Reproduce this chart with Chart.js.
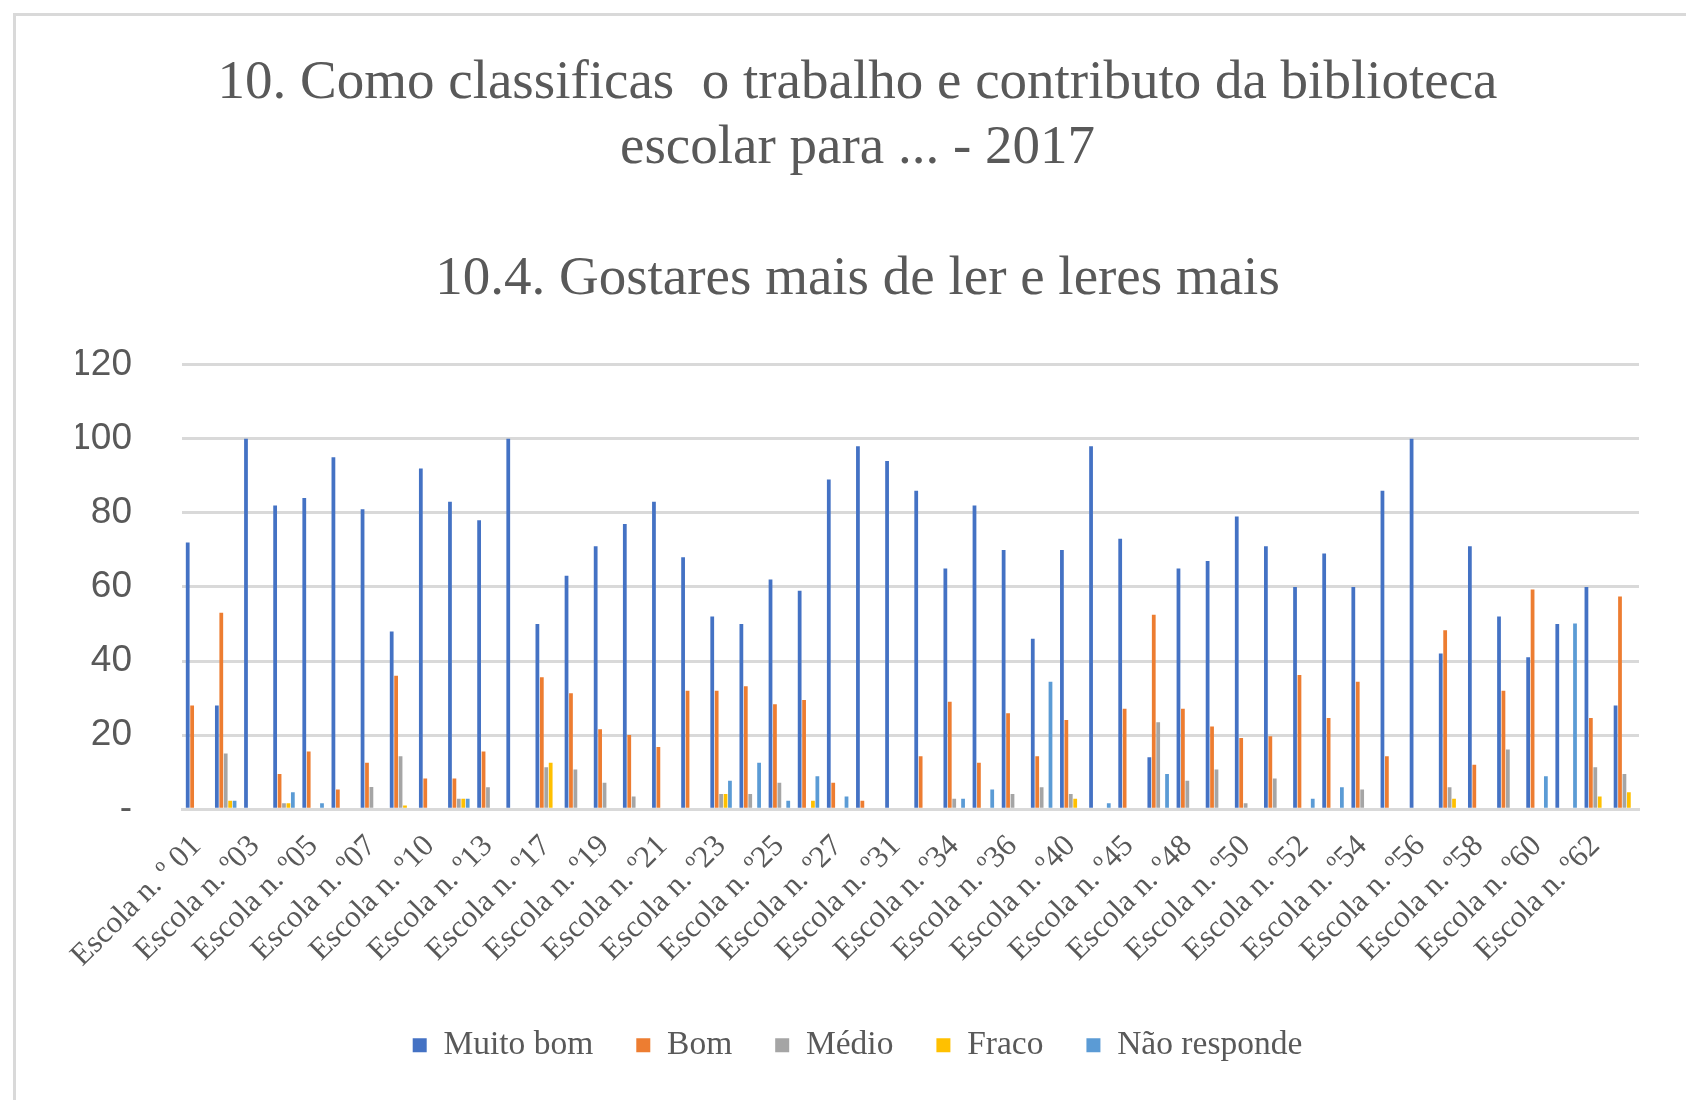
<!DOCTYPE html>
<html>
<head>
<meta charset="utf-8">
<script src="https://cdn.jsdelivr.net/npm/chart.js@4.4.1/dist/chart.umd.min.js"></script>
<style>
  html, body { margin: 0; padding: 0; background: #fff; overflow: hidden; }
  #frame {
    position: absolute; left: 13px; top: 13px;
    width: 1690px; height: 1100px;
    border-left: 3px solid #d9d9d9; border-top: 3px solid #d9d9d9;
  }
  #box { position: absolute; left: 0; top: 0; width: 1670px; height: 1084px; }
</style>
</head>
<body>
<div id="frame"><div id="box"><canvas id="chart"></canvas></div></div>
<script>
// school names (only every other one is shown on the axis)
const escolas = [
    'Escola n. º 01', 'Escola n. º02', 'Escola n. º03', 'Escola n. º04', 'Escola n. º05',
    'Escola n. º06', 'Escola n. º07', 'Escola n. º08', 'Escola n. º10', 'Escola n. º11',
    'Escola n. º13', 'Escola n. º15', 'Escola n. º17', 'Escola n. º18', 'Escola n. º19',
    'Escola n. º20', 'Escola n. º21', 'Escola n. º22', 'Escola n. º23', 'Escola n. º24',
    'Escola n. º25', 'Escola n. º26', 'Escola n. º27', 'Escola n. º29', 'Escola n. º31',
    'Escola n. º33', 'Escola n. º34', 'Escola n. º35', 'Escola n. º36', 'Escola n. º38',
    'Escola n. º40', 'Escola n. º42', 'Escola n. º45', 'Escola n. º47', 'Escola n. º48',
    'Escola n. º49', 'Escola n. º50', 'Escola n. º51', 'Escola n. º52', 'Escola n. º53',
    'Escola n. º54', 'Escola n. º55', 'Escola n. º56', 'Escola n. º57', 'Escola n. º58',
    'Escola n. º59', 'Escola n. º60', 'Escola n. º61', 'Escola n. º62', 'Escola n. º63'
];

const muitoBom = [72, 28, 100, 82, 84, 95, 81, 48, 92, 83, 78, 100, 50, 63, 71, 77, 83, 68, 52, 50,
    62, 59, 89, 98, 94, 86, 65, 82, 70, 46, 70, 98, 73, 14, 65, 67, 79, 71, 60, 69,
    60, 86, 100, 42, 71, 52, 41, 50, 60, 28];
const bom = [28, 53, 0, 9.5, 15.6, 5.3, 12.5, 36, 8.3, 8.3, 15.6, 0, 35.6, 31.3, 21.6, 20, 16.8, 32, 32, 33.2,
    28.3, 29.5, 7.1, 2.3, 0, 14.3, 29, 12.5, 25.9, 14.3, 24.1, 0, 27.1, 52.5, 27.1, 22.3, 19.2, 19.7, 36.2, 24.6,
    34.4, 14.3, 0, 48.3, 12, 32, 59.3, 0, 24.6, 57.4];
const medio = [0, 15, 0, 1.6, 0, 0, 6, 14.3, 0, 2.8, 5.9, 0, 11.3, 10.7, 7.1, 3.4, 0, 0, 4.1, 4.1,
    7.1, 0, 0, 0, 0, 0, 2.8, 0, 4.1, 5.9, 4.1, 0, 0, 23.5, 7.7, 10.7, 1.6, 8.3, 0, 0,
    5.3, 0, 0, 5.9, 0, 16.1, 0, 0, 11.3, 9.5];
const fraco = [0, 2.3, 0, 1.6, 0, 0, 0, 1, 0, 2.8, 0, 0, 12.5, 0, 0, 0, 0, 0, 4.1, 0,
    0, 2.3, 0, 0, 0, 0, 0, 0, 0, 0, 2.8, 0, 0, 0, 0, 0, 0, 0, 0, 0,
    0, 0, 0, 2.8, 0, 0, 0, 0, 3.4, 4.6];
const naoResponde = [0, 2.3, 0, 4.6, 1.6, 0, 0, 0, 0, 2.8, 0, 0, 0, 0, 0, 0, 0, 0, 7.7, 12.5,
    2.3, 8.9, 3.4, 0, 0, 0, 2.8, 5.3, 0, 34.4, 0, 1.6, 0, 9.5, 0, 0, 0, 0, 2.8, 5.9,
    0, 0, 0, 0, 0, 0, 8.9, 50.1, 0, 0];

const yTicks = [0, 20, 40, 60, 80, 100, 120];

const grey = '#595959';
const serif = "'Liberation Serif', 'Times New Roman', serif";

function serie(label, data, color) {
    return {
        label: label,
        data: data,
        backgroundColor: color,
        borderWidth: 0,
        barPercentage: 0.85,
        categoryPercentage: 0.76
    };
}

new Chart(document.getElementById('chart'), {
    type: 'bar',
    data: {
        labels: escolas,
        datasets: [
            serie('Muito bom', muitoBom, '#4472C4'),
            serie('Bom', bom, '#ED7D31'),
            serie('Médio', medio, '#A5A5A5'),
            serie('Fraco', fraco, '#FFC000'),
            serie('Não responde', naoResponde, '#5B9BD5')
        ]
    },
    options: {
        responsive: true,
        maintainAspectRatio: false,
        animation: false,
        // left padding pushes title/legend centre right like the original
        layout: { padding: { left: 60, right: 47, top: 0, bottom: 28 } },
        plugins: {
            title: {
                display: true,
                text: ['10. Como classificas  o trabalho e contributo da biblioteca',
                       'escolar para ... - 2017', '', '10.4. Gostares mais de ler e leres mais'],
                color: grey,
                font: { family: serif, size: 55, weight: 'normal', lineHeight: 1.185 },
                padding: { top: 35, bottom: 53 }
            },
            legend: {
                position: 'bottom',
                labels: {
                    color: grey,
                    font: { family: serif, size: 33.5 },
                    boxWidth: 14,
                    boxHeight: 14,
                    padding: 43
                }
            },
            tooltip: { enabled: false }
        },
        scales: {
            x: {
                grid: { display: false },
                border: { color: '#d9d9d9', width: 3 },
                ticks: {
                    color: grey,
                    font: { family: serif, size: 31 },
                    autoSkip: false,
                    maxRotation: 45,
                    minRotation: 45,
                    padding: 11,
                    callback: function(value, index) {
                        return index % 2 === 0 ? this.getLabelForValue(value) : '';
                    }
                }
            },
            y: {
                min: 0,
                max: 120,
                afterBuildTicks: function(axis) {
                    axis.ticks = yTicks.map(v => ({ value: v }));
                },
                afterFit: function(axis) {
                    axis.width = 106;
                },
                grid: { color: '#d9d9d9', lineWidth: 3, drawTicks: false },
                border: { display: false },
                ticks: {
                    color: grey,
                    font: { family: "'Liberation Sans', Arial, sans-serif", size: 37 },
                    padding: 50,
                    callback: function(value) {
                        return value === 0 ? '-' : value;
                    }
                }
            }
        }
    }
});
</script>
</body>
</html>
